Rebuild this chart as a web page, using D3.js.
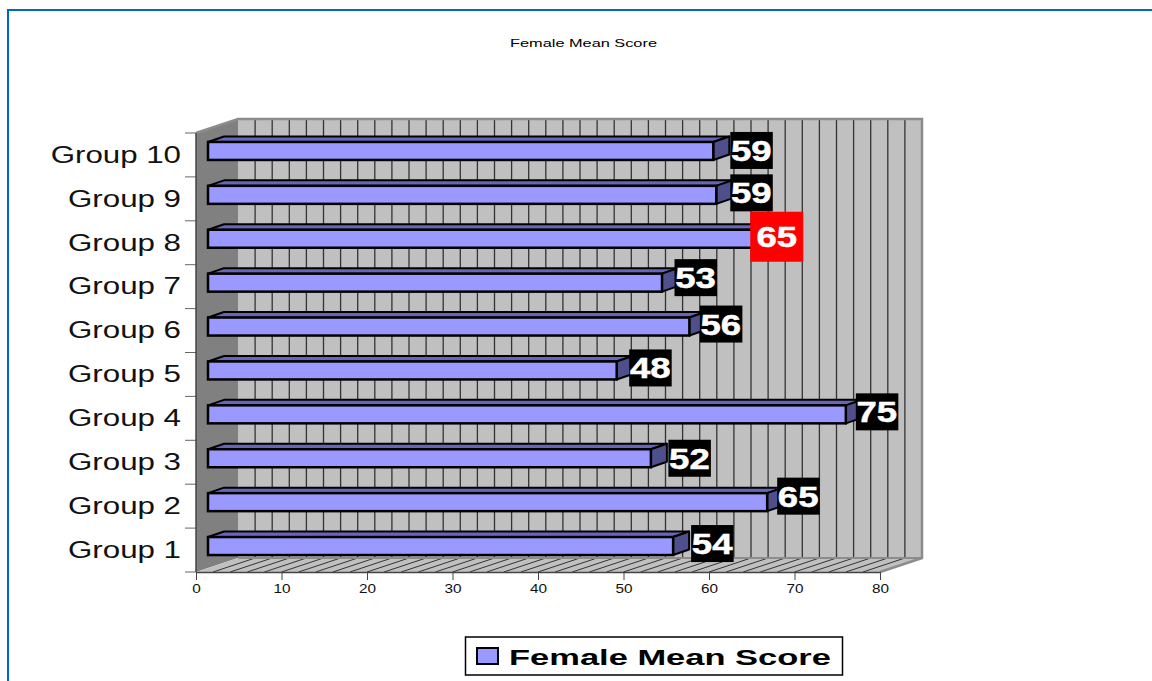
<!DOCTYPE html>
<html>
<head>
<meta charset="utf-8">
<script src="https://cdn.jsdelivr.net/npm/d3@7"></script>
<style>
  body { margin: 0; background: #fff; }
  text { font-family: "Liberation Sans", Arial, sans-serif; }
</style>
</head>
<body>
<svg id="chart" width="1152" height="681"></svg>
<script>
var groups = ["Group 1", "Group 2", "Group 3", "Group 4", "Group 5",
              "Group 6", "Group 7", "Group 8", "Group 9", "Group 10"];
var scores = [54.4, 65.4, 51.8, 74.6, 47.8, 56.3, 53.1, 65.0, 59.45, 59.1];
var xTicks = [0, 10, 20, 30, 40, 50, 60, 70, 80];
var title = "Female Mean Score";
var seriesName = "Female Mean Score";
var highlighted = "Group 8";

var depthX = 42, depthY = 14;     // floor / wall offset
var barInset = 12;                // bars sit a bit behind the front plane
var barDepthX = 16, barDepthY = 5.5;

var svg = d3.select("#chart");

var x = d3.scaleLinear().domain([0, 80]).range([196, 880]);
var y = d3.scaleBand().domain(groups).range([572, 133]).paddingInner(0.59).paddingOuter(0.295);
var yStep = y.step();
var yTop = 133, yBottom = 572;

var poly = function(pts) { return pts.map(function(p) { return p.join(","); }).join(" "); };

// page border, only top and left show
svg.append("path")
    .attr("d", "M8,681V10H1152")
    .attr("fill", "none")
    .attr("stroke", "#0066cc")
    .attr("stroke-width", 2);

// stretched text helper, the original is wider than any installed face
var put = function(sel, tx, ty, k) {
    return sel.attr("transform", "translate(" + tx + "," + ty + ") scale(" + k + ",1)");
};

put(svg.append("text"), 583.5, 47, 1.42)
    .attr("text-anchor", "middle")
    .attr("font-size", 11.5)
    .attr("fill", "#000")
    .text(title);

// back wall
svg.append("rect")
    .attr("x", x(0) + depthX)
    .attr("y", yTop - depthY)
    .attr("width", x(80) - x(0))
    .attr("height", yBottom - yTop)
    .attr("fill", "#c0c0c0");

// left wall
svg.append("polygon")
    .attr("points", poly([[x(0), yTop], [x(0) + depthX, yTop - depthY],
                          [x(0) + depthX, yBottom - depthY], [x(0), yBottom]]))
    .attr("fill", "#808080");

// floor
svg.append("polygon")
    .attr("points", poly([[x(0), yBottom], [x(0) + depthX, yBottom - depthY],
                          [x(80) + depthX, yBottom - depthY], [x(80), yBottom]]))
    .attr("fill", "#c0c0c0");

var grid = x.ticks(40).filter(function(d) { return d > 0 && d < 80; });

svg.append("g").selectAll("line")
    .data(grid)
    .join("line")
    .attr("x1", function(d) { return x(d) + depthX; })
    .attr("x2", function(d) { return x(d) + depthX; })
    .attr("y1", yTop - depthY)
    .attr("y2", yBottom - depthY)
    .attr("stroke", "#333")
    .attr("stroke-width", 1.3);

svg.append("g").selectAll("line")
    .data(grid)
    .join("line")
    .attr("x1", function(d) { return x(d) + depthX; })
    .attr("x2", function(d) { return x(d); })
    .attr("y1", yBottom - depthY)
    .attr("y2", yBottom)
    .attr("stroke", "#222")
    .attr("stroke-width", 0.9);

// wall outline
svg.append("path")
    .attr("d", "M" + x(0) + "," + yTop + "L" + (x(0) + depthX) + "," + (yTop - depthY)
        + "H" + (x(80) + depthX) + "V" + (yBottom - depthY) + "L" + x(80) + "," + yBottom)
    .attr("fill", "none")
    .attr("stroke", "#8c8c8c")
    .attr("stroke-width", 2.5);

svg.append("line")
    .attr("x1", x(0) + depthX).attr("x2", x(80) + depthX)
    .attr("y1", yBottom - depthY).attr("y2", yBottom - depthY)
    .attr("stroke", "#8c8c8c")
    .attr("stroke-width", 2);

// x axis
var xAxis = svg.append("g")
    .attr("transform", "translate(0," + yBottom + ")")
    .call(d3.axisBottom(x).tickValues(xTicks).tickSize(8).tickPadding(4).tickSizeOuter(0));
xAxis.select(".domain").attr("stroke", "#444").attr("stroke-width", 1.5);
xAxis.selectAll(".tick line").attr("stroke", "#444");
xAxis.selectAll(".tick text")
    .attr("font-family", "Liberation Sans")
    .attr("font-size", 13)
    .attr("fill", "#111")
    .attr("transform", "scale(1.18,1)");

// y axis, ticks fall between the categories
var yAxis = svg.append("g")
    .attr("transform", "translate(" + x(0) + ",0)")
    .call(d3.axisLeft(y).tickSize(0).tickPadding(0));
yAxis.select(".domain").remove();
yAxis.selectAll(".tick text")
    .attr("font-family", "Liberation Sans")
    .attr("font-size", 23)
    .attr("fill", "#111")
    .attr("x", 0)
    .attr("dy", "0.34em")
    .attr("transform", "translate(-15,0) scale(1.36,1)");

svg.append("g").selectAll("line")
    .data(d3.range(groups.length + 1))
    .join("line")
    .attr("x1", x(0) - 11)
    .attr("x2", x(0))
    .attr("y1", function(i) { return yTop + i * yStep; })
    .attr("y2", function(i) { return yTop + i * yStep; })
    .attr("stroke", "#666")
    .attr("stroke-width", 1);

svg.append("line")
    .attr("x1", x(0)).attr("x2", x(0))
    .attr("y1", yTop).attr("y2", yBottom)
    .attr("stroke", "#444")
    .attr("stroke-width", 1.5);

// bars
var rows = groups.map(function(g, i) { return { group: g, score: scores[i] }; });
var barRight = function(d) { return x(d.score) + barInset; };
var barTop = function(d) { return y(d.group) - 4; };
var h = y.bandwidth();

var bars = svg.append("g").selectAll("g").data(rows).join("g");

bars.append("polygon")
    .attr("points", function(d) {
        var l = x(0) + barInset, r = barRight(d), t = barTop(d);
        return poly([[l, t], [l + barDepthX, t - barDepthY], [r + barDepthX, t - barDepthY], [r, t]]);
    })
    .attr("fill", "#6666bb")
    .attr("stroke", "#000")
    .attr("stroke-width", 2)
    .attr("stroke-linejoin", "round");

bars.append("polygon")
    .attr("points", function(d) {
        var r = barRight(d), t = barTop(d);
        return poly([[r, t], [r + barDepthX, t - barDepthY], [r + barDepthX, t + h - barDepthY], [r, t + h]]);
    })
    .attr("fill", "#4f4f8c")
    .attr("stroke", "#000")
    .attr("stroke-width", 2)
    .attr("stroke-linejoin", "round");

bars.append("rect")
    .attr("x", x(0) + barInset)
    .attr("y", barTop)
    .attr("width", function(d) { return barRight(d) - x(0) - barInset; })
    .attr("height", h)
    .attr("fill", "#9999ff")
    .attr("stroke", "#000")
    .attr("stroke-width", 2.5);

// value labels were hand placed in the original, so they need nudging off the bar end
var labelGap = { "Group 1": 39, "Group 2": 31, "Group 3": 38.5, "Group 4": 31, "Group 5": 33.5,
                 "Group 6": 31.5, "Group 7": 33.5, "Group 8": 13, "Group 9": 35, "Group 10": 38 };
var labelLift = { "Group 1": 2.5, "Group 2": 6, "Group 3": 0, "Group 4": 2.5, "Group 5": 2.5,
                  "Group 6": 2.5, "Group 7": 5, "Group 8": 2, "Group 9": 2, "Group 10": 0.5 };

var labels = svg.append("g").selectAll("g").data(rows).join("g")
    .attr("transform", function(d) {
        return "translate(" + (barRight(d) + labelGap[d.group]) + ","
            + (barTop(d) + h / 2 - labelLift[d.group]) + ")";
    });

labels.append("rect")
    .attr("x", function(d) { return d.group === highlighted ? -26.5 : -21; })
    .attr("y", function(d) { return d.group === highlighted ? -25 : -18.5; })
    .attr("width", function(d) { return d.group === highlighted ? 53 : 42.5; })
    .attr("height", function(d) { return d.group === highlighted ? 50 : 37; })
    .attr("fill", function(d) { return d.group === highlighted ? "#ff0000" : "#000"; });

labels.append("text")
    .attr("text-anchor", "middle")
    .attr("dy", "0.36em")
    .attr("font-size", 29)
    .attr("font-weight", "bold")
    .attr("fill", "#fff")
    .attr("stroke", "#fff")
    .attr("stroke-width", 0.5)
    .attr("transform", "scale(1.26,1)")
    .text(function(d) { return d3.format(".0f")(d.score); });

// legend
var legend = svg.append("g");
legend.append("rect")
    .attr("x", 465.5).attr("y", 637)
    .attr("width", 377).attr("height", 38)
    .attr("fill", "#fff")
    .attr("stroke", "#000")
    .attr("stroke-width", 1.5);
legend.append("rect")
    .attr("x", 477).attr("y", 648)
    .attr("width", 21).attr("height", 16)
    .attr("fill", "#9999ff")
    .attr("stroke", "#000")
    .attr("stroke-width", 2);
put(legend.append("text"), 509, 665, 1.5)
    .attr("font-size", 23)
    .attr("font-weight", "bold")
    .attr("fill", "#000")
    .text(seriesName);
</script>
</body>
</html>
